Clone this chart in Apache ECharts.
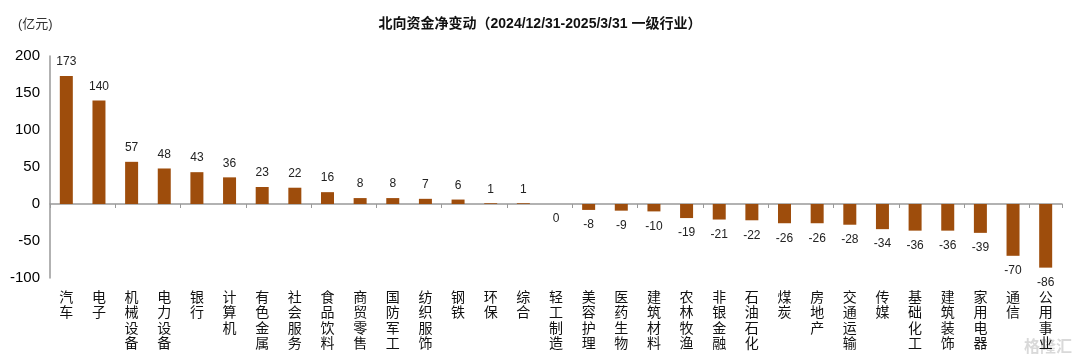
<!DOCTYPE html>
<html><head><meta charset="utf-8">
<script src="https://cdn.jsdelivr.net/npm/echarts@6/dist/echarts.min.js"></script>
<style>html,body{margin:0;padding:0;background:#fff}#c{width:1080px;height:362px}</style>
</head><body><div id="c"></div>
<script>
const categories = ['汽车','电子','机械设备','电力设备','银行','计算机','有色金属','社会服务','食品饮料','商贸零售','国防军工','纺织服饰','钢铁','环保','综合','轻工制造','美容护理','医药生物','建筑材料','农林牧渔','非银金融','石油石化','煤炭','房地产','交通运输','传媒','基础化工','建筑装饰','家用电器','通信','公用事业'];
const values = [173,140,57,48,43,36,23,22,16,8,8,7,6,1,1,0,-8,-9,-10,-19,-21,-22,-26,-26,-28,-34,-36,-36,-39,-70,-86];
const yTicks = [-100,-50,0,50,100,150,200];
const titleText = '北向资金净变动（2024/12/31-2025/3/31 一级行业）';
const unitText = '(亿元)';

const chart = echarts.init(document.getElementById('c'));
const font = 'Arial, "Liberation Sans", "Noto Sans CJK SC", sans-serif';
chart.setOption({
  animation:false,
  title:{text:titleText,left:'center',top:12,textStyle:{fontSize:14,fontWeight:'bold',color:'#111',fontFamily:font}},
  graphic:[
    {type:'text',left:18,top:18,style:{text:unitText,fontSize:13,fill:'#333',fontFamily:font}},
    {type:'text',right:8,bottom:6,style:{text:'格隆汇',fontSize:16,fontWeight:'bold',fill:'rgba(180,180,180,0.5)',fontFamily:font}}
  ],
  grid:{left:50,right:18,top:56,bottom:84},
  xAxis:[
    {type:'category',data:categories,axisLine:{onZero:true,lineStyle:{color:'#999',width:1.5}},
     axisTick:{show:true,alignWithLabel:false,length:4,lineStyle:{color:'#999'}},axisLabel:{show:false}},
    {type:'category',data:categories,position:'bottom',offset:0,axisLine:{show:false},axisTick:{show:false},
     axisLabel:{interval:0,margin:12,fontSize:14,lineHeight:15.5,color:'#111',fontFamily:font,verticalAlign:'top',
       formatter:v=>v.split('').join('\n')}}
  ],
  yAxis:{type:'value',min:yTicks[0],max:yTicks[yTicks.length-1],interval:50,
    axisLine:{show:true,lineStyle:{color:'#999',width:1.5}},axisTick:{show:false},splitLine:{show:false},
    axisLabel:{fontSize:15,color:'#000',fontFamily:font,margin:10}},
  series:[{type:'bar',data:values.map(v=>({value:v,label:{position:v>0?'top':'bottom',distance:v>0?8:9}})),
    barWidth:13,itemStyle:{color:'#9E4D0C'},
    label:{show:true,fontSize:12,color:'#222',fontFamily:font,formatter:p=>p.value}
  }]
});
</script></body></html>
